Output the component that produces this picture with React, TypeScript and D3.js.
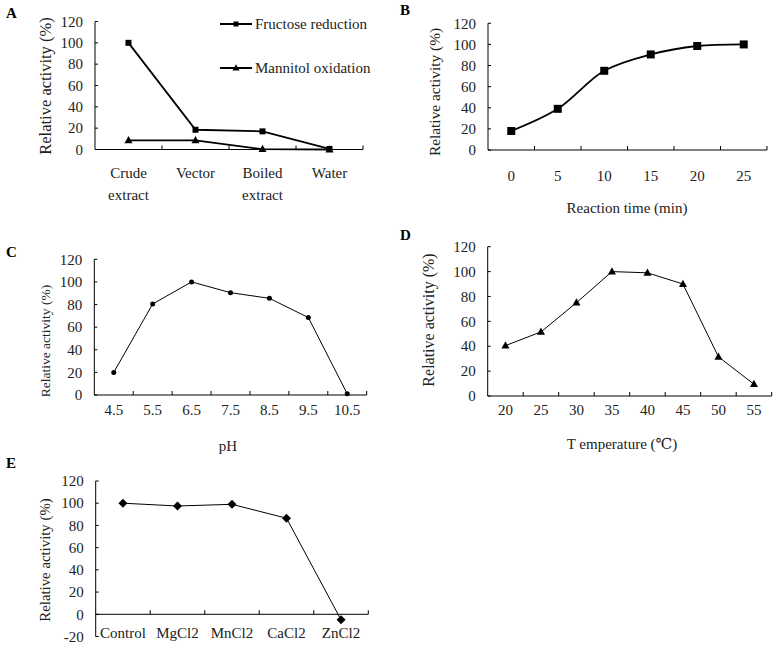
import React from "react";
import * as d3 from "d3";

// ---------- data ----------
const catsA = ["Crude extract", "Vector", "Boiled extract", "Water"];
const fructoseA = [100, 18.5, 17, 0.5];
const mannitolA = [8.5, 8.5, 0.3, 0];
const timeB = ["0", "5", "10", "15", "20", "25"];
const activityB = [18, 39, 75, 90.5, 98.5, 100];
const pHC = ["4.5", "5.5", "6.5", "7.5", "8.5", "9.5", "10.5"];
const activityC = [20, 80.5, 100, 90.5, 85.5, 68.5, 1];
const tempD = ["20", "25", "30", "35", "40", "45", "50", "55"];
const activityD = [40.5, 51.5, 75, 100, 99, 90, 31.5, 9.5];
const ionsE = ["Control", "MgCl2", "MnCl2", "CaCl2", "ZnCl2"];
const activityE = [100, 97.5, 99, 86.5, -5];
const yTicks = [0, 20, 40, 60, 80, 100, 120];
const yTicksE = [-20, 0, 20, 40, 60, 80, 100, 120];

const FONT = "Liberation Serif, Times New Roman, Times, DejaVu Serif, Noto Serif, serif";

type Series = { values: number[]; marker: string; width: number; smooth?: boolean; msize: number };

type PanelProps = {
  letter: string;
  letterPos: [number, number];
  x0: number;
  x1: number;
  yTopPx: number;
  yZeroPx: number;
  yMin: number;
  ticks: number[];
  cats: string[];
  series: Series[];
  labelY: number;
  yTitle: [number, number, number];
  xTitle?: [string, number, number];
};

function Marker({ kind, x, y, s }: { kind: string; x: number; y: number; s: number }) {
  if (kind === "square")
    return <rect x={x - s / 2} y={y - s / 2} width={s} height={s} fill="#000" />;
  if (kind === "triangle") {
    const h = s * 0.9;
    return (
      <path
        d={`M${x},${y - h * 0.6} L${x + s / 2},${y + h * 0.4} L${x - s / 2},${y + h * 0.4} Z`}
        fill="#000"
      />
    );
  }
  if (kind === "diamond")
    return (
      <path d={`M${x},${y - s / 2} L${x + s / 2},${y} L${x},${y + s / 2} L${x - s / 2},${y} Z`} fill="#000" />
    );
  return <circle cx={x} cy={y} r={s / 2} fill="#000" />;
}

function Panel(p: PanelProps) {
  const per = (p.yZeroPx - p.yTopPx) / 120;
  const y = d3
    .scaleLinear()
    .domain([p.yMin, 120])
    .range([p.yZeroPx - p.yMin * per, p.yTopPx]);
  const x = d3.scaleBand<string>().domain(p.cats).range([p.x0, p.x1]).padding(0);
  const cx = (c: string) => (x(c) as number) + x.bandwidth() / 2;
  const axisY = y(0);
  return (
    <g>
      <text x={p.letterPos[0]} y={p.letterPos[1]} style={{ fontFamily: FONT }} fontWeight="bold" fontSize={15} fill="#000">
        {p.letter}
      </text>
      <line x1={p.x0} x2={p.x0} y1={y(120)} y2={y(p.yMin)} stroke="#000" strokeWidth={1} />
      {p.ticks.map((t) => (
        <g key={t}>
          <line x1={p.x0} x2={p.x0 + 3} y1={y(t)} y2={y(t)} stroke="#000" />
          <text
            x={p.x0 - 12}
            y={y(t)}
            dy="0.35em"
            textAnchor="end"
            style={{ fontFamily: FONT }}
            fontSize={15}
            fill="#222"
          >
            {t}
          </text>
        </g>
      ))}
      <line x1={p.x0} x2={p.x1} y1={axisY} y2={axisY} stroke="#000" strokeWidth={1} />
      {p.cats.map((c) => (
        <line
          key={"t" + c}
          x1={(x(c) as number) + x.bandwidth()}
          x2={(x(c) as number) + x.bandwidth()}
          y1={axisY}
          y2={axisY - 4}
          stroke="#000"
        />
      ))}
      {p.cats.map((c) => {
        const parts = c.split(" ");
        return (
          <text key={"l" + c} x={cx(c)} y={p.labelY} textAnchor="middle" style={{ fontFamily: FONT }} fontSize={15} fill="#222">
            {parts.map((w, i) => (
              <tspan key={i} x={cx(c)} dy={i === 0 ? "0.35em" : "1.45em"}>
                {w}
              </tspan>
            ))}
          </text>
        );
      })}
      {p.series.map((s, si) => {
        const pts: [number, number][] = s.values.map((v, i) => [cx(p.cats[i]), y(v)]);
        const line = d3.line().curve(s.smooth ? d3.curveCatmullRom.alpha(0.5) : d3.curveLinear);
        return (
          <g key={si}>
            <path d={line(pts) || ""} fill="none" stroke="#000" strokeWidth={s.width} />
            {pts.map((pt, i) => (
              <Marker key={i} kind={s.marker} x={pt[0]} y={pt[1]} s={s.msize} />
            ))}
          </g>
        );
      })}
      <text
        transform={`translate(${p.yTitle[0]},${p.yTitle[1]}) rotate(-90)`}
        textAnchor="middle"
        dy="0.35em"
        style={{ fontFamily: FONT }}
        fontSize={p.yTitle[2]}
        fill="#222"
      >
        Relative activity (%)
      </text>
      {p.xTitle && (
        <text x={p.xTitle[1]} y={p.xTitle[2]} dy="0.35em" textAnchor="middle" style={{ fontFamily: FONT }} fontSize={15} fill="#222">
          {p.xTitle[0]}
        </text>
      )}
    </g>
  );
}

export default function App() {
  return (
    <svg
      width={777}
      height={646}
      style={{ position: "absolute", left: 0, top: 0, background: "#fff" }}
      viewBox="0 0 777 646"
    >
      <rect width={777} height={646} fill="#fff" />
      <Panel
        letter="A"
        letterPos={[6, 18]}
        x0={95}
        x1={363}
        yTopPx={21.5}
        yZeroPx={149.5}
        yMin={0}
        ticks={yTicks}
        cats={catsA}
        series={[
          { values: fructoseA, marker: "square", width: 1.8, msize: 6 },
          { values: mannitolA, marker: "triangle", width: 1.8, msize: 8 },
        ]}
        labelY={173}
        yTitle={[45, 86, 16.5]}
      />
      <g>
        <line x1={220} x2={252} y1={24} y2={24} stroke="#000" strokeWidth={2} />
        <Marker kind="square" x={236} y={24} s={5} />
        <text x={255} y={24} dy="0.35em" style={{ fontFamily: FONT }} fontSize={15} fill="#222">
          Fructose reduction
        </text>
        <line x1={220} x2={252} y1={68} y2={68} stroke="#000" strokeWidth={2} />
        <Marker kind="triangle" x={236} y={68} s={7} />
        <text x={255} y={68} dy="0.35em" style={{ fontFamily: FONT }} fontSize={15} fill="#222">
          Mannitol oxidation
        </text>
      </g>
      <Panel
        letter="B"
        letterPos={[400, 15]}
        x0={488}
        x1={767}
        yTopPx={23.3}
        yZeroPx={150}
        yMin={0}
        ticks={yTicks}
        cats={timeB}
        series={[{ values: activityB, marker: "square", width: 1.8, smooth: true, msize: 8 }]}
        labelY={176}
        yTitle={[435, 92, 15.4]}
        xTitle={["Reaction time (min)", 627, 208]}
      />
      <Panel
        letter="C"
        letterPos={[6, 257]}
        x0={94.3}
        x1={366.7}
        yTopPx={259.3}
        yZeroPx={395}
        yMin={0}
        ticks={yTicks}
        cats={pHC}
        series={[{ values: activityC, marker: "circle", width: 1, msize: 5 }]}
        labelY={410}
        yTitle={[45, 341, 13.5]}
        xTitle={["pH", 228, 446]}
      />
      <Panel
        letter="D"
        letterPos={[400, 240]}
        x0={487.7}
        x1={771.7}
        yTopPx={246.7}
        yZeroPx={396}
        yMin={0}
        ticks={yTicks}
        cats={tempD}
        series={[{ values: activityD, marker: "triangle", width: 1, msize: 8 }]}
        labelY={410}
        yTitle={[428, 320, 16]}
        xTitle={["T emperature (℃)", 622, 444]}
      />
      <Panel
        letter="E"
        letterPos={[6, 468]}
        x0={95.7}
        x1={368.3}
        yTopPx={481}
        yZeroPx={614.3}
        yMin={-20}
        ticks={yTicksE}
        cats={ionsE}
        series={[{ values: activityE, marker: "diamond", width: 1, msize: 9 }]}
        labelY={633}
        yTitle={[45, 560, 14.8]}
      />
    </svg>
  );
}
